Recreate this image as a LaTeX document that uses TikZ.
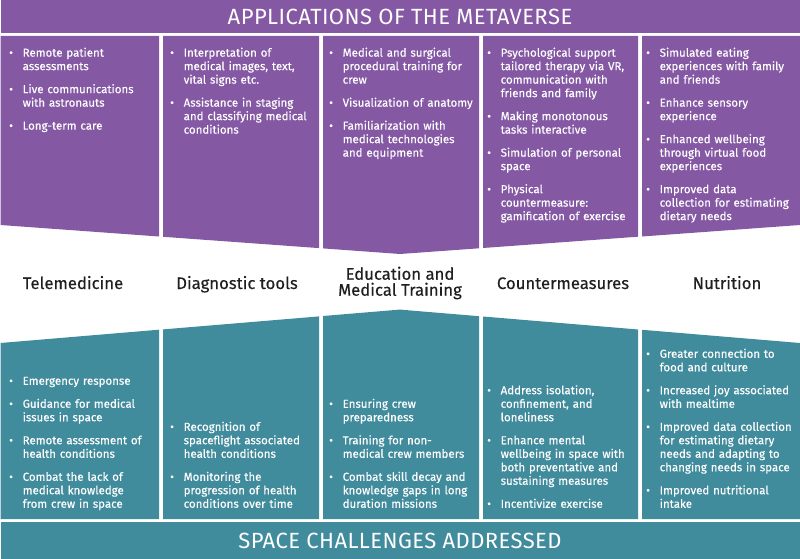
\documentclass[tikz,border=0pt]{standalone}
\usepackage{fontspec}
\setmainfont{Fira Sans}[FakeBold=0.3]
\newfontfamily\bannerfont{Fira Sans}[LetterSpace=2]
\definecolor{metapurple}{HTML}{8558A4}
\definecolor{spaceteal}{HTML}{408B9C}
\newcommand{\itm}[1]{\noindent\makebox[13.5pt][l]{\textbullet}%
  \parbox[t]{142pt}{\fontsize{11.5}{13.5}\selectfont\strut#1\strut}\par}

\begin{document}
\begin{tikzpicture}[x=1pt, y=-1pt,
  listtext/.style={text=white, inner sep=0pt, text width=156pt, align=left,
    font=\fontsize{11.5}{13.5}\selectfont,
    execute at begin node={\setlength{\parskip}{9.5pt}\lineskip=0pt}},
  topic/.style={text=black!88, inner sep=0pt, align=center,
    font=\fontsize{16.7}{16}\selectfont},
  banner/.style={text=white, inner sep=0pt, font=\bannerfont\fontsize{22}{24}\selectfont}]
\useasboundingbox (0,0) rectangle (800,559);
% banners
\fill[metapurple] (0.5,0) rectangle (800,33);
\fill[spaceteal] (0.5,522) rectangle (800,559);
% applications (top)
\fill[metapurple] (0.5,36) -- (159,36) -- (159,236.5) -- (0.5,225) -- cycle;
\fill[metapurple] (163,36) -- (319,36) -- (319,248.1) -- (163,236.8) -- cycle;
\fill[metapurple] (323,36) -- (479,36) -- (479,248.3) -- (400,254) -- (323,248.4) -- cycle;
\fill[metapurple] (483,36) -- (638,36) -- (638,236.7) -- (483,248) -- cycle;
\fill[metapurple] (642,36) -- (800,36) -- (800,225) -- (642,236.5) -- cycle;
% challenges (bottom)
\fill[spaceteal] (0.5,343) -- (159,329.7) -- (159,519) -- (0.5,519) -- cycle;
\fill[spaceteal] (163,329.4) -- (319,316.4) -- (319,519) -- (163,519) -- cycle;
\fill[spaceteal] (323,316) -- (400,309.6) -- (479,316.2) -- (479,519) -- (323,519) -- cycle;
\fill[spaceteal] (483,316.5) -- (638,329.5) -- (638,519) -- (483,519) -- cycle;
\fill[spaceteal] (642,329.8) -- (800,343) -- (800,519) -- (642,519) -- cycle;

\node[banner] (apptitle) at (400,17) {APPLICATIONS OF THE METAVERSE};
\node[banner] (chaltitle) at (400,540.5) {SPACE CHALLENGES ADDRESSED};

\node[topic, anchor=base] (tele) at (73,289) {Telemedicine};
\node[topic, anchor=base] (diag) at (237,289) {Diagnostic tools};
\node[topic] (edu) at (400,283) {Education and\\Medical Training};
\node[topic, anchor=base] (counter) at (563,289) {Countermeasures};
\node[topic, anchor=base] (nutri) at (727,289) {Nutrition};

% metaverse applications
\node[listtext, anchor=north west] (teleapp) at (9,47) {%
\itm{Remote patient\\assessments}
\itm{Live communications\\with astronauts}
\itm{Long-term care}};
\node[listtext, anchor=north west] (diagapp) at (170,47) {%
\itm{Interpretation of\\medical images, text,\\vital signs etc.}
\itm{Assistance in staging\\and classifying medical\\conditions}};
\node[listtext, anchor=north west] (eduapp) at (329,47) {%
\itm{Medical and surgical\\procedural training for\\crew}
\itm{Visualization of anatomy}
\itm{Familiarization with\\medical technologies\\and equipment}};
\node[listtext, anchor=north west] (counterapp) at (487,47) {%
\itm{Psychological support\\tailored therapy via VR,\\communication with\\friends and family}
\itm{Making monotonous\\tasks interactive}
\itm{Simulation of personal\\space}
\itm{Physical\\countermeasure:\\gamification of exercise}};
\node[listtext, anchor=north west] (nutriapp) at (646,47) {%
\itm{Simulated eating\\experiences with family\\and friends}
\itm{Enhance sensory\\experience}
\itm{Enhanced wellbeing\\through virtual food\\experiences}
\itm{Improved data\\collection for estimating\\dietary needs}};

% space challenges
\node[listtext, anchor=south west] (telechal) at (9,512) {%
\itm{Emergency response}
\itm{Guidance for medical\\issues in space}
\itm{Remote assessment of\\health conditions}
\itm{Combat the lack of\\medical knowledge\\from crew in space}};
\node[listtext, anchor=south west] (diagchal) at (170,512) {%
\itm{Recognition of\\spaceflight associated\\health conditions}
\itm{Monitoring the\\progression of health\\conditions over time}};
\node[listtext, anchor=south west] (educhal) at (329,512) {%
\itm{Ensuring crew\\preparedness}
\itm{Training for non-\\medical crew members}
\itm{Combat skill decay and\\knowledge gaps in long\\duration missions}};
\node[listtext, anchor=south west] (counterchal) at (487,512) {%
\itm{Address isolation,\\confinement, and\\loneliness}
\itm{Enhance mental\\wellbeing in space with\\both preventative and\\sustaining measures}
\itm{Incentivize exercise}};
\node[listtext, anchor=south west] (nutrichal) at (646,512) {%
\itm{Greater connection to\\food and culture}
\itm{Increased joy associated\\with mealtime}
\itm{Improved data collection\\for estimating dietary\\needs and adapting to\\changing needs in space}
\itm{Improved nutritional\\intake}};
\end{tikzpicture}
\end{document}
